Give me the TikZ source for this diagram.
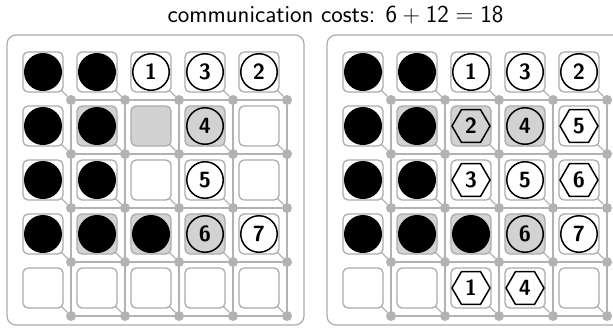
\documentclass[tikz,border=0pt]{standalone}
\usetikzlibrary{shapes.geometric}
\definecolor{linegray}{HTML}{B2B2B2}
\definecolor{cellgray}{HTML}{D2D2D2}
\definecolor{bordergray}{HTML}{ABABAB}
\newcommand\numfont{\fontsize{22}{26}\selectfont\sffamily\bfseries}
\pgfdeclarelayer{bg}\pgfsetlayers{bg,main}
\begin{document}
\begin{tikzpicture}[x=1pt,y=-1pt,
 panel/.style={draw=bordergray, line width=1.2pt, rounded corners=9pt},
 cellbox/.style={draw=bordergray, line width=1.3pt, rounded corners=5pt, minimum size=40pt, inner sep=0pt},
 router/.style={circle, fill=linegray, minimum size=10pt, inner sep=0pt},
 gridline/.style={draw=linegray, line width=1.4pt},
 blackball/.style={circle, fill=black, minimum size=38pt, inner sep=0pt},
 numball/.style={circle, draw=black, line width=1.5pt, fill=white, minimum size=36.5pt, inner sep=0pt, font=\numfont},
 numhex/.style={regular polygon, regular polygon sides=6, draw=black, line width=1.5pt, fill=white, minimum size=38pt, inner sep=0pt, font=\numfont}]
\useasboundingbox (0,0) rectangle (613,327);
\node[font=\fontsize{24.5}{28}\selectfont\sffamily, anchor=base] (title) at (335.5,22) {communication costs: 6\hspace{.222em}+\hspace{.222em}12\hspace{.278em}=\hspace{.278em}18};
\foreach \p/\dx in {1/0,2/320} {
  \draw[panel] (7+\dx,35) rectangle (304+\dx,325);
  \foreach \r in {1,...,5} {
    \foreach \c in {1,...,5} {
      \pgfmathtruncatemacro\g{((\r==2)||(\r==4))&&(\c>1)&&(\c<5)}
      \ifnum\g=1 \def\cf{cellgray}\else\def\cf{white}\fi
      \node[cellbox, fill=\cf] (cell-\p-\r-\c) at ({\dx+43+54*(\c-1)},{72+54*(\r-1)}) {};
      \node[router] (dot-\p-\r-\c) at ({\dx+71+54*(\c-1)},{100+54*(\r-1)}) {};
    }
  }
}
\begin{pgfonlayer}{bg}
\foreach \p in {1,2} {
  \foreach \k in {1,...,5} {
    \draw[gridline] (dot-\p-\k-1) -- (dot-\p-\k-5);
    \draw[gridline] (dot-\p-1-\k) -- (dot-\p-5-\k);
  }
  \foreach \r in {1,...,5} {
    \foreach \c in {1,...,5} {
      \draw[gridline] (cell-\p-\r-\c.center) -- (dot-\p-\r-\c);
    }
  }
}
\end{pgfonlayer}
\foreach \p in {1,2} {
  \foreach \rc in {1-1,1-2,2-1,2-2,3-1,3-2,4-1,4-2,4-3}
    \node[blackball] (ball-\p-\rc) at (cell-\p-\rc) {};
  \foreach \rc/\n in {1-3/1,1-4/3,1-5/2,3-4/5,4-5/7}
    \node[numball] (num-\p-\rc) at (cell-\p-\rc) {\n};
  \foreach \rc/\n in {2-4/4,4-4/6}
    \node[numball, fill=cellgray] (num-\p-\rc) at (cell-\p-\rc) {\n};
}
\foreach \rc/\n in {2-5/5,3-3/3,3-5/6,5-3/1,5-4/4}
  \node[numhex] (hex-\rc) at (cell-2-\rc) {\n};
\node[numhex, fill=cellgray] (hex-2-3) at (cell-2-2-3) {2};
\end{tikzpicture}
\end{document}
